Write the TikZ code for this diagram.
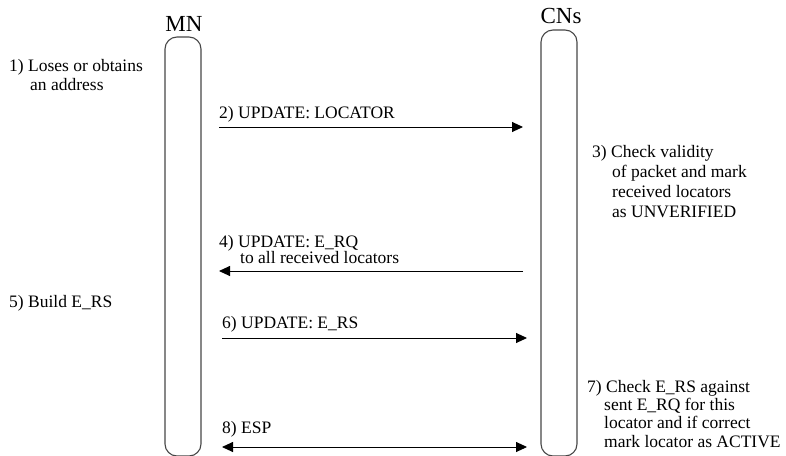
\documentclass[tikz,border=0pt]{standalone}
\usepackage{fontspec}
\setmainfont{Liberation Serif}
\usetikzlibrary{arrows.meta}
\begin{document}
\begin{tikzpicture}[x=1pt,y=-1pt,
  lbl/.style={anchor=base west,inner sep=0pt,font=\fontsize{17.5}{20}\selectfont},
  head/.style={anchor=base,inner sep=0pt,font=\fontsize{23}{26}\selectfont},
  lifeline/.style={draw=black!72,line width=1.1pt,rounded corners=12pt,minimum width=36pt,inner sep=0pt},
  msg/.style={line width=0.9pt,-{Triangle[length=11pt,width=10pt]}},
  msgboth/.style={line width=0.9pt,{Triangle[length=11pt,width=10pt]}-{Triangle[length=11pt,width=10pt]}}]
\useasboundingbox (0,0) rectangle (786,455);
\clip (0,0) rectangle (786,455);
% lifelines
\node[lifeline,minimum height=419pt] (mn) at (183,246.5) {};
\node[lifeline,minimum height=426pt] (cn) at (559,243) {};
\node[head] (mnlbl) at (184,31) {MN};
\node[head] (cnlbl) at (561,23.5) {CNs};
% step texts
\node[lbl] (t1a) at (9,71) {1) Loses or obtains};
\node[lbl] (t1b) at (30,90) {an address};
\node[lbl] (t2) at (219,118) {2) UPDATE: LOCATOR};
\node[lbl] (t3a) at (592,157) {3) Check validity};
\node[lbl] (t3b) at (612,177) {of packet and mark};
\node[lbl] (t3c) at (612,197) {received locators};
\node[lbl] (t3d) at (612,217) {as UNVERIFIED};
\node[lbl] (t4a) at (219,247) {4) UPDATE: E\_RQ};
\node[lbl] (t4b) at (240,263) {to all received locators};
\node[lbl] (t5) at (9,307) {5) Build E\_RS};
\node[lbl] (t6) at (222,328) {6) UPDATE: E\_RS};
\node[lbl] (t7a) at (587,392) {7) Check E\_RS against};
\node[lbl] (t7b) at (604,410) {sent E\_RQ for this};
\node[lbl] (t7c) at (604,428) {locator and if correct};
\node[lbl] (t7d) at (604,447) {mark locator as ACTIVE};
\node[lbl] (t8) at (222,433) {8) ESP};
% message end points
\coordinate (m2a) at (219,127);  \coordinate (m2b) at (523,127);
\coordinate (m4a) at (523,271);  \coordinate (m4b) at (219,271);
\coordinate (m6a) at (222,338);  \coordinate (m6b) at (527,338);
\coordinate (m8a) at (222,447);  \coordinate (m8b) at (527,447);
\draw[msg] (m2a) -- (m2b);
\draw[msg] (m4a) -- (m4b);
\draw[msg] (m6a) -- (m6b);
\draw[msgboth] (m8a) -- (m8b);
\end{tikzpicture}
\end{document}
